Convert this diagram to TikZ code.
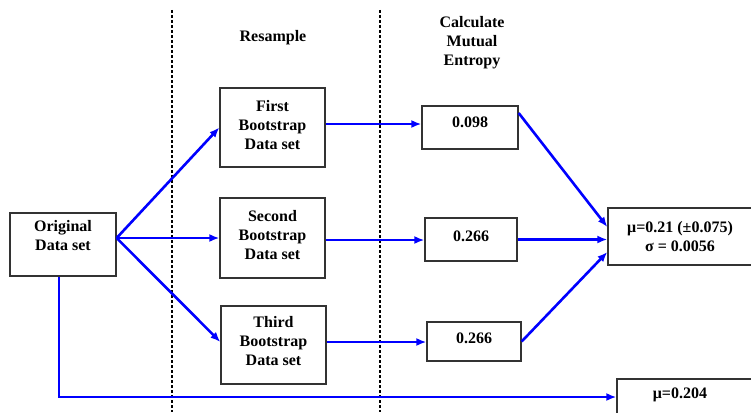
\documentclass[tikz,border=0pt]{standalone}
\usepackage{fontspec}
\setmainfont{Liberation Serif}
\usetikzlibrary{arrows.meta}
\begin{document}
\begin{tikzpicture}[x=1pt,y=-1pt,
  box/.style={draw=black!80,line width=1.3pt,fill=white,inner sep=0pt},
  txt/.style={font=\bfseries\fontsize{16}{19}\selectfont,align=center,inner sep=0pt},
  arr/.style={draw=blue,line width=2.6pt,-{Latex[length=10pt,width=8pt]}},
  sep/.style={draw=black,line width=1.6pt,dash pattern=on 3pt off 2pt}]
\useasboundingbox (0,0) rectangle (751,412);
\clip (0,0) rectangle (751,412);
% dashed separators
\coordinate (s1t) at (172,10); \coordinate (s1b) at (172,412);
\coordinate (s2t) at (380,10); \coordinate (s2b) at (380,412);
\draw[sep] (s1t) -- (s1b);
\draw[sep] (s2t) -- (s2b);
% headings
\node[txt] (hres) at (273,38) {Resample};
\node[txt] (hcal) at (472,43) {Calculate\\Mutual\\Entropy};
% boxes
\node[box,minimum width=106pt,minimum height=63pt] (orig) at (63,244.5) {};
\node[txt] (origt) at (63,236) {Original\\Data set};
\node[box,minimum width=105pt,minimum height=79pt] (b1) at (272.5,127.5) {};
\node[txt] (b1t) at (272.5,125) {First\\Bootstrap\\Data set};
\node[box,minimum width=105pt,minimum height=80pt] (b2) at (272.5,238) {};
\node[txt] (b2t) at (272.5,235) {Second\\Bootstrap\\Data set};
\node[box,minimum width=105pt,minimum height=78pt] (b3) at (273.5,345) {};
\node[txt] (b3t) at (273.5,341) {Third\\Bootstrap\\Data set};
\node[box,minimum width=96pt,minimum height=43pt] (e1) at (470,127.5) {};
\node[txt] (e1t) at (470,122) {0.098};
\node[box,minimum width=92pt,minimum height=43pt] (e2) at (471,239.5) {};
\node[txt] (e2t) at (471,236) {0.266};
\node[box,minimum width=94pt,minimum height=39pt] (e3) at (474,341.5) {};
\node[txt] (e3t) at (474,338) {0.266};
\node[box,minimum width=152pt,minimum height=57pt] (mu) at (684,236.5) {};
\node[txt] (mut) at (680,237) {μ=0.21 (±0.075)\\σ = 0.0056};
\node[box,minimum width=143pt,minimum height=36pt] (mu2) at (688.5,397) {};
\node[txt] (mu2t) at (680,395) {μ=0.204};
% arrows: resample
\draw[arr] ([yshift=6.5pt]orig.east) -- (b1.west);
\draw[arr] ([yshift=6.5pt]orig.east) -- (b2.west);
\draw[arr] ([yshift=6.5pt]orig.east) -- ([yshift=3pt]b3.west);
% arrows: entropy
\draw[arr] ([yshift=3.5pt]b1.east) -- ([yshift=3.5pt]b1.east -| e1.west);
\draw[arr] ([yshift=-2pt]b2.east) -- ([yshift=-2pt]b2.east -| e2.west);
\draw[arr] ([yshift=3pt]b3.east) -- ([yshift=3pt]b3.east -| e3.west);
% arrows: combine
\draw[arr] ([yshift=14.5pt]e1.east) -- ([yshift=9.5pt]mu.west);
\draw[arr] (e2.east) -- (e2.east -| mu.west);
\draw[arr] (e3.east) -- ([yshift=-15.5pt]mu.west);
% bottom
\draw[arr] ([xshift=-4pt]orig.south) |- (mu2.west);
\end{tikzpicture}
\end{document}
